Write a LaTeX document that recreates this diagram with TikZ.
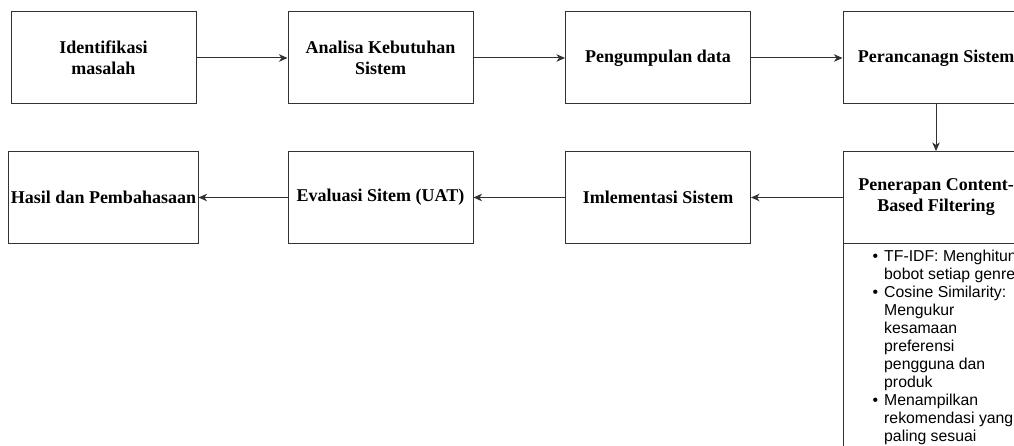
\documentclass[tikz,border=0pt]{standalone}
\usepackage{fontspec}
\setmainfont{Liberation Serif}
\newfontfamily\arialf{Liberation Sans}
\usetikzlibrary{arrows.meta}
\definecolor{ln}{RGB}{50,50,50}
\tikzset{
  boxst/.style={draw=ln, line width=1pt, minimum width=185pt, minimum height=92pt, inner sep=2pt,
    align=center, font=\bfseries\fontsize{18}{21}\selectfont},
  arr/.style={draw=ln, line width=1pt, -{Stealth[length=8.5pt,width=7.5pt,inset=2.5pt]}},
}
\begin{document}
\begin{tikzpicture}[x=1pt,y=-1pt]
\useasboundingbox (0,0) rectangle (1014,446);
\clip (0,0) rectangle (1014,446);
\fill[white] (0,0) rectangle (1014,446);
% top row
\node[boxst] (b1) at (103.5,58) {Identifikasi\\masalah};
\node[boxst] (b2) at (380.5,58) {Analisa Kebutuhan\\Sistem};
\node[boxst] (b3) at (658,58) {Pengumpulan data};
\node[boxst, minimum width=186pt] (b4) at (936,58) {Perancanagn Sistem};
% bottom row
\node[boxst] (has) at (103.5,197.5) {Hasil dan Pembahasaan};
\node[boxst] (eva) at (380.5,197.5) {Evaluasi Sitem (UAT)};
\node[boxst] (imp) at (658,197.5) {Imlementasi Sistem};
\draw[draw=ln, line width=1pt] (843,151.5) rectangle (1029,470);
\node[boxst, minimum width=186pt] (pen) at (936,197.5) {Penerapan Content-\\Based Filtering};
\node[anchor=north west, align=left, inner sep=0pt,
  font=\arialf\fontsize{15.8}{18}\selectfont] (lst) at (884,250)
  {\llap{\textbullet\hspace{6pt}}TF-IDF: Menghitung\\
   bobot setiap genre\\
   \llap{\textbullet\hspace{6pt}}Cosine Similarity:\\
   Mengukur\\
   kesamaan\\
   preferensi\\
   pengguna dan\\
   produk\\
   \llap{\textbullet\hspace{6pt}}Menampilkan\\
   rekomendasi yang\\
   paling sesuai};
% connectors
\draw[arr] (b1) -- (b2);
\draw[arr] (b2) -- (b3);
\draw[arr] (b3) -- (b4);
\draw[arr] (b4) -- (pen);
\draw[arr] (pen) -- (imp);
\draw[arr] (imp) -- (eva);
\draw[arr] (eva) -- (has);
\end{tikzpicture}
\end{document}
